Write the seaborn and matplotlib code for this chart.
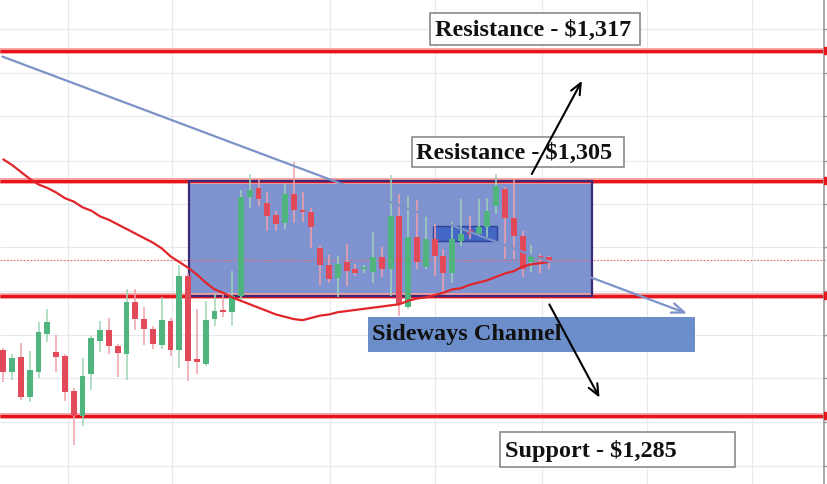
import numpy as np
import pandas as pd
import seaborn as sns
import matplotlib.pyplot as plt
from matplotlib.patches import Rectangle

# daily candles (open, high, low, close)
opens = [1290.8, 1288.9, 1290.2, 1286.7, 1288.9, 1292.2, 1290.6, 1290.3, 1287.2, 1285.0,
         1288.7, 1291.6, 1292.5, 1291.1, 1290.4, 1295.0, 1293.5, 1292.6, 1291.2, 1293.3,
         1290.8, 1297.3, 1290.0, 1289.6, 1293.5, 1294.3, 1294.1, 1295.5, 1304.2, 1305.0,
         1303.7, 1302.6, 1301.9, 1304.5, 1303.1, 1302.9, 1299.7, 1298.2, 1297.1, 1298.5,
         1297.9, 1297.9, 1297.6, 1298.9, 1297.9, 1302.5, 1294.6, 1300.7, 1298.1, 1300.5,
         1299.0, 1297.5, 1300.3, 1301.3, 1301.0, 1301.6, 1303.4, 1304.9, 1302.4, 1300.8,
         1298.5, 1298.9, 1298.9]
highs = [1291.0, 1290.4, 1291.4, 1290.7, 1293.2, 1294.4, 1292.1, 1290.4, 1287.5, 1290.1,
         1292.0, 1293.3, 1293.6, 1291.3, 1296.1, 1296.1, 1294.6, 1292.9, 1295.4, 1293.6,
         1298.2, 1297.5, 1294.4, 1295.1, 1295.7, 1295.9, 1297.7, 1304.8, 1306.2, 1305.8,
         1304.6, 1303.0, 1305.3, 1307.3, 1304.6, 1303.2, 1299.9, 1299.1, 1299.0, 1300.1,
         1298.3, 1298.2, 1301.1, 1299.8, 1306.1, 1304.5, 1304.3, 1303.9, 1302.5, 1301.8,
         1299.6, 1302.0, 1304.0, 1302.5, 1304.0, 1304.1, 1306.2, 1305.1, 1305.8, 1301.2,
         1300.0, 1299.2, 1299.0]
lows = [1288.0, 1288.2, 1286.4, 1286.2, 1288.3, 1291.5, 1288.9, 1286.3, 1282.5, 1284.1,
        1287.3, 1290.6, 1290.4, 1288.4, 1288.2, 1292.5, 1291.2, 1290.9, 1290.9, 1290.3,
        1289.2, 1288.1, 1288.7, 1289.4, 1292.9, 1293.7, 1292.9, 1295.1, 1303.2, 1303.4,
        1301.2, 1301.2, 1301.4, 1301.9, 1302.0, 1299.7, 1296.4, 1296.7, 1295.4, 1296.4,
        1297.3, 1297.5, 1296.7, 1297.2, 1295.5, 1293.8, 1294.4, 1297.9, 1297.9, 1297.3,
        1295.9, 1296.7, 1299.9, 1300.5, 1300.8, 1300.7, 1302.7, 1298.8, 1298.8, 1297.2,
        1297.6, 1297.5, 1297.9]
closes = [1288.9, 1290.1, 1286.7, 1289.0, 1292.4, 1293.2, 1290.2, 1287.1, 1285.0, 1288.5,
          1291.8, 1292.5, 1291.1, 1290.5, 1295.0, 1293.5, 1292.6, 1291.3, 1293.4, 1290.8,
          1297.3, 1289.8, 1289.7, 1293.4, 1294.2, 1294.1, 1295.5, 1304.2, 1304.8, 1304.0,
          1302.5, 1301.8, 1304.5, 1303.1, 1302.9, 1301.6, 1298.2, 1297.0, 1298.3, 1297.7,
          1297.5, 1298.0, 1298.9, 1297.9, 1302.5, 1294.8, 1300.7, 1298.5, 1300.5, 1299.0,
          1297.5, 1300.5, 1301.0, 1301.0, 1301.6, 1303.0, 1305.2, 1302.4, 1300.8, 1297.9,
          1299.0, 1298.8, 1298.7]

# moving average, one value per candle
ma = [1307.5, 1307.0, 1306.4, 1305.8, 1305.3, 1305.0, 1304.6, 1304.1, 1303.8, 1303.3,
      1303.0, 1302.5, 1302.2, 1301.8, 1301.4, 1301.0, 1300.6, 1300.2, 1299.7, 1299.0,
      1298.5, 1298.0, 1297.4, 1296.7, 1296.1, 1295.8, 1295.4, 1295.1, 1294.8, 1294.5,
      1294.2, 1293.9, 1293.7, 1293.5, 1293.4, 1293.6, 1293.8, 1293.9, 1294.1, 1294.2,
      1294.3, 1294.4, 1294.5, 1294.6, 1294.7, 1294.8, 1295.1, 1295.3, 1295.4, 1295.6,
      1295.8, 1296.1, 1296.2, 1296.5, 1296.7, 1296.9, 1297.2, 1297.5, 1297.7, 1298.1,
      1298.3, 1298.4, 1298.5]

levels = [1317.0, 1305.6, 1295.5, 1285.0]
last_price = 1298.7

channel_x = [21.1, 66.9]
channel_y = [1295.5, 1305.6]
flag_x = [48.8, 56.1]
flag_y = [1300.3, 1301.7]

trend_start = (-0.4, 1316.6)
trend_end = (78.0, 1293.9)

labels = ["Resistance - $1,317", "Resistance - $1,305", "Support - $1,285"]
label_boxes = [(48.5, 72.3, 1317.5, 1320.3), (46.4, 70.5, 1306.8, 1309.5),
               (56.4, 83.1, 1280.5, 1283.6)]
label_text_pos = [(49.1, 1318.9), (46.9, 1308.1), (57.0, 1282.0)]

up_arrow = [(59.9, 1306.0), (65.9, 1314.6)]
down_arrow = [(61.9, 1295.0), (67.9, 1286.4)]

grid_x = [7.35, 19.2, 37.1, 49.1, 61.2, 73.1, 85.1]
grid_y = [1280.6, 1284.5, 1288.3, 1292.1, 1296.0, 1299.8, 1303.6, 1307.4, 1311.3,
          1315.1, 1318.9]

sns.set_style("whitegrid", {"grid.color": "#e6e9f0"})
plt.rcParams["font.family"] = ["Liberation Serif", "DejaVu Serif"]

fig = plt.figure(figsize=(8.27, 4.85), dpi=100)
ax = fig.add_axes([0, 0, 1, 1])
ax.set_xlim(-0.375, 93.6)
ax.set_ylim(1279.04, 1321.56)
ax.set_xticks(grid_x)
ax.set_yticks(grid_y)
ax.set_xticklabels([])
ax.set_yticklabels([])
ax.tick_params(length=0)
ax.grid(True, lw=0.8)
for s in ax.spines.values():
    s.set_visible(False)

# channel box
ax.add_patch(Rectangle((channel_x[0], channel_y[0]), channel_x[1] - channel_x[0],
                       channel_y[1] - channel_y[0], facecolor="#7e93cf", edgecolor="none",
                       zorder=1))

# support / resistance lines
red = "#e8141c"
for lv in levels:
    ax.plot([-0.4, 93.3], [lv, lv], color="#f7a0a0", lw=4.2, zorder=1.8, solid_capstyle="butt")
    ax.plot([-0.4, 93.3], [lv, lv], color=red, lw=2.2, zorder=2, solid_capstyle="butt")
ax.axhline(last_price, color="#e06a6a", lw=0.8, ls=(0, (1.5, 1.5)), zorder=2)

ax.add_patch(Rectangle((channel_x[0], channel_y[0]), channel_x[1] - channel_x[0],
                       channel_y[1] - channel_y[0], facecolor="none", edgecolor="#3a2a78",
                       lw=1.6, zorder=3))
ax.add_patch(Rectangle((flag_x[0], flag_y[0]), flag_x[1] - flag_x[0], flag_y[1] - flag_y[0],
                       facecolor="#4466c4", edgecolor="#2d4299", lw=1, zorder=3.2))

# candles
df = pd.DataFrame({"o": opens, "h": highs, "l": lows, "c": closes, "ma": ma})
df["i"] = np.arange(len(df))
up = df["c"] >= df["o"]
colors = np.where(up, "#4fb47e", "#e24a5a")
wick_colors = np.where(up, "#9fd4b6", "#f0a0aa")
ax.vlines(df["i"], df["l"], df["h"], colors=wick_colors, lw=1.1, zorder=4)
body = (df["c"] - df["o"]).abs().clip(lower=0.2)
ax.bar(df["i"], body, bottom=df[["o", "c"]].min(axis=1), width=0.68, color=colors,
       zorder=4.5, linewidth=0)

# moving average
sns.lineplot(data=df, x="i", y="ma", color="#e0262a", lw=1.6, ax=ax, zorder=5)
ax.set_xlabel("")
ax.set_ylabel("")

# trend line
ax.annotate("", xy=trend_end, xytext=trend_start,
            arrowprops=dict(arrowstyle="->,head_length=0.9,head_width=0.35",
                            color="#7d92c9", lw=1.6), zorder=5.5)

# sideways channel label
ax.add_patch(Rectangle((41.4, 1290.6), 37.2, 3.1, facecolor="#6b8ecb", edgecolor="none",
                       zorder=6))
ax.text(41.9, 1292.2, "Sideways Channel", fontsize=17.5, fontweight="bold",
        va="center", ha="left", color="#111111", zorder=7)

# level labels
for txt, (x0, x1, y0, y1), (tx, ty) in zip(labels, label_boxes, label_text_pos):
    ax.add_patch(Rectangle((x0, y0), x1 - x0, y1 - y0, facecolor="white",
                           edgecolor="#8a8a8a", lw=1.2, zorder=6))
    ax.text(tx, ty, txt, fontsize=17.5, fontweight="bold", va="center", ha="left",
            color="#111111", zorder=7)

for (a, b) in [up_arrow, down_arrow]:
    ax.annotate("", xy=b, xytext=a,
                arrowprops=dict(arrowstyle="->,head_length=0.8,head_width=0.35",
                                color="black", lw=1.5), zorder=8)

# price scale edge
ax.axvline(93.3, color="#9a9a9a", lw=1.2, zorder=6)
for g in grid_y:
    ax.plot([93.3, 93.6], [g, g], color="#9a9a9a", lw=1, zorder=6)
for lv in levels:
    ax.plot([93.3, 93.6], [lv, lv], color=red, lw=6, zorder=6.5, solid_capstyle="butt")

plt.savefig("out.png", dpi=100)
